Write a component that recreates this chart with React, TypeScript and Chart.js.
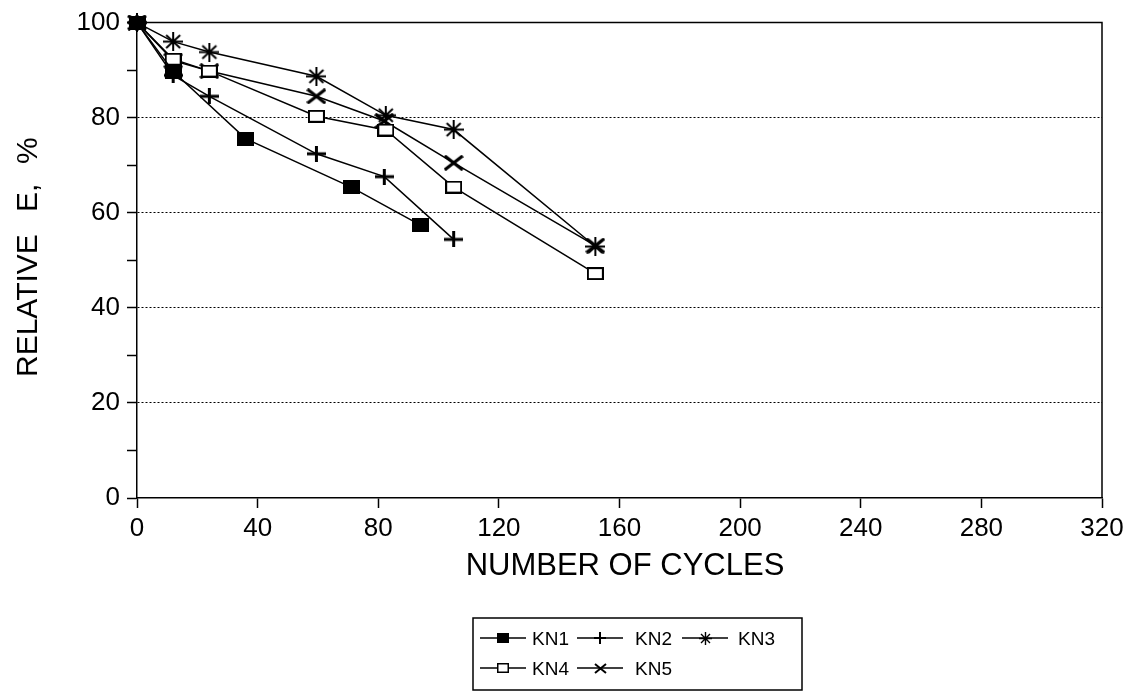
import React, { useEffect, useRef } from 'react';
import { Chart, registerables } from 'chart.js';

Chart.register(...registerables);

const FONT = '"Liberation Sans", Arial, Helvetica, sans-serif';

// ---- data ----
const seriesNames = ['KN1', 'KN2', 'KN3', 'KN4', 'KN5'];
const kn1Cycles = [0, 12, 36, 71, 94];
const kn1Values = [100, 89.7, 75.6, 65.4, 57.4];
const kn2Cycles = [0, 12, 24, 59.5, 82, 105];
const kn2Values = [100, 88.9, 84.5, 72.4, 67.6, 54.4];
const kn3Cycles = [0, 12, 24, 59.5, 82.5, 105, 152];
const kn3Values = [100, 96, 93.8, 88.7, 80.5, 77.5, 52.9];
const kn4Cycles = [0, 12, 24, 59.5, 82.5, 105, 152];
const kn4Values = [100, 92.3, 89.8, 80.3, 77.4, 65.4, 47.2];
const kn5Cycles = [0, 12, 24, 59.5, 82, 105, 152];
const kn5Values = [100, 92, 89.8, 84.5, 79.3, 70.5, 53.1];

const xMin = 0;
const xMax = 320;
const xStep = 40;
const yMin = 0;
const yMax = 100;
const yMinorStep = 10;
const yLabelStep = 20;
const yGridValues = [20, 40, 60, 80];

const xAxisTitle = 'NUMBER OF CYCLES';
const yAxisTitleParts = ['RELATIVE', 'E,', '%'];

type Marker = 'filledSquare' | 'plus' | 'asterisk' | 'openSquare' | 'cross';
const seriesMarkers: Marker[] = ['filledSquare', 'plus', 'asterisk', 'openSquare', 'cross'];

function makeMarker(kind: Marker, small: boolean): HTMLCanvasElement {
  const c = document.createElement('canvas');
  const ctx = c.getContext('2d')!;
  const set = (w: number, h: number) => {
    c.width = w;
    c.height = h;
  };
  if (kind === 'filledSquare') {
    small ? set(12, 10) : set(17, 14);
    ctx.fillStyle = '#000';
    ctx.fillRect(0, 0, c.width, c.height);
  } else if (kind === 'openSquare') {
    small ? set(12, 10) : set(17, 13);
    const lw = small ? 1.5 : 2;
    ctx.fillStyle = '#fff';
    ctx.fillRect(0, 0, c.width, c.height);
    ctx.strokeStyle = '#000';
    ctx.lineWidth = lw;
    ctx.strokeRect(lw / 2, lw / 2, c.width - lw, c.height - lw);
  } else if (kind === 'plus') {
    small ? set(12, 12) : set(19, 16);
    ctx.strokeStyle = '#000';
    ctx.lineWidth = small ? 2 : 3;
    ctx.beginPath();
    ctx.moveTo(0, c.height / 2);
    ctx.lineTo(c.width, c.height / 2);
    ctx.moveTo(c.width / 2, 0);
    ctx.lineTo(c.width / 2, c.height);
    ctx.stroke();
  } else if (kind === 'asterisk') {
    small ? set(13, 13) : set(20, 19);
    ctx.strokeStyle = '#000';
    ctx.lineWidth = small ? 1.4 : 2;
    const w = c.width;
    const h = c.height;
    const d = small ? 2 : 3;
    ctx.beginPath();
    ctx.moveTo(0, h / 2);
    ctx.lineTo(w, h / 2);
    ctx.moveTo(w / 2, 0);
    ctx.lineTo(w / 2, h);
    ctx.moveTo(d, d);
    ctx.lineTo(w - d, h - d);
    ctx.moveTo(w - d, d);
    ctx.lineTo(d, h - d);
    ctx.stroke();
  } else {
    small ? set(13, 11) : set(20, 16);
    ctx.strokeStyle = '#000';
    ctx.lineWidth = small ? 2 : 3.2;
    ctx.beginPath();
    ctx.moveTo(1, 1);
    ctx.lineTo(c.width - 1, c.height - 1);
    ctx.moveTo(c.width - 1, 1);
    ctx.lineTo(1, c.height - 1);
    ctx.stroke();
  }
  return c;
}

const legendRows = [
  [0, 1, 2],
  [3, 4],
];
const legendSymbolStarts = [480, 577, 682];
const legendTextStarts = [532, 635, 738];

export default function App() {
  const ref = useRef<HTMLCanvasElement | null>(null);

  useEffect(() => {
    const canvas = ref.current;
    if (!canvas) return;

    const big = seriesMarkers.map((m) => makeMarker(m, false));
    const small = seriesMarkers.map((m) => makeMarker(m, true));

    const xs = [kn1Cycles, kn2Cycles, kn3Cycles, kn4Cycles, kn5Cycles];
    const ys = [kn1Values, kn2Values, kn3Values, kn4Values, kn5Values];

    const datasets = seriesNames.map((name, i) => ({
      label: name,
      data: xs[i].map((x, j) => ({ x, y: ys[i][j] })),
      borderColor: '#000',
      backgroundColor: '#000',
      borderWidth: 1.5,
      pointStyle: big[i] as any,
      pointRadius: 10,
      pointHoverRadius: 10,
      showLine: true,
      tension: 0,
      clip: false as any,
    }));

    const framePlugin = {
      id: 'frame',
      beforeDatasetsDraw(chart: any) {
        const { ctx, chartArea: ca } = chart;
        ctx.save();
        ctx.strokeStyle = '#000';
        ctx.lineWidth = 1.5;
        ctx.beginPath();
        ctx.moveTo(ca.left, ca.top);
        ctx.lineTo(ca.right, ca.top);
        ctx.lineTo(ca.right, ca.bottom);
        ctx.stroke();
        ctx.restore();
      },
      afterDraw(chart: any) {
        const { ctx } = chart;
        ctx.save();
        ctx.fillStyle = '#000';
        ctx.strokeStyle = '#000';
        // x title
        ctx.font = `31px ${FONT}`;
        ctx.textAlign = 'center';
        ctx.textBaseline = 'alphabetic';
        ctx.fillText(xAxisTitle, 625, 575);
        // y title (rotated)
        ctx.font = `30px ${FONT}`;
        ctx.textAlign = 'left';
        const starts = [377, 212, 164];
        yAxisTitleParts.forEach((p, i) => {
          ctx.save();
          ctx.translate(37, starts[i]);
          ctx.rotate(-Math.PI / 2);
          ctx.fillText(p, 0, 0);
          ctx.restore();
        });
        // legend box
        ctx.lineWidth = 1.5;
        ctx.strokeRect(473, 618, 329, 72);
        ctx.font = `19px ${FONT}`;
        ctx.textBaseline = 'alphabetic';
        legendRows.forEach((row, r) => {
          const yLine = r === 0 ? 638 : 668;
          const yText = r === 0 ? 645 : 675;
          row.forEach((si, k) => {
            const x1 = legendSymbolStarts[k];
            const x2 = x1 + 46;
            ctx.lineWidth = 1.5;
            ctx.beginPath();
            ctx.moveTo(x1, yLine);
            ctx.lineTo(x2, yLine);
            ctx.stroke();
            const m = small[si];
            ctx.drawImage(m, Math.round((x1 + x2) / 2 - m.width / 2), Math.round(yLine - m.height / 2));
            ctx.fillText(seriesNames[si], legendTextStarts[k], yText);
          });
        });
        ctx.restore();
      },
    };

    const chart = new Chart(canvas, {
      type: 'line',
      data: { datasets: datasets as any },
      plugins: [framePlugin as any],
      options: {
        animation: false,
        responsive: false,
        devicePixelRatio: 1,
        layout: { padding: { left: 0, right: 40, top: 22, bottom: 0 } },
        plugins: {
          legend: { display: false },
          tooltip: { enabled: false },
        },
        scales: {
          x: {
            type: 'linear',
            min: xMin,
            max: xMax,
            afterFit: (s: any) => {
              s.height = 202;
            },
            ticks: {
              stepSize: xStep,
              color: '#000',
              font: { family: FONT, size: 26 },
              padding: 5,
              maxRotation: 0,
              autoSkip: false,
            },
            grid: {
              color: 'rgba(0,0,0,0)',
              tickColor: '#000',
              tickLength: 10,
              tickWidth: 1.5,
            },
            border: { display: true, color: '#000', width: 1.5 },
          },
          y: {
            type: 'linear',
            min: yMin,
            max: yMax,
            afterFit: (s: any) => {
              s.width = 137;
            },
            ticks: {
              stepSize: yMinorStep,
              color: '#000',
              font: { family: FONT, size: 26 },
              padding: 7,
              autoSkip: false,
              callback: (v: any) => (Number(v) % yLabelStep === 0 ? String(v) : ''),
            },
            grid: {
              color: (c: any) => (yGridValues.includes(c.tick?.value) ? '#000' : 'rgba(0,0,0,0)'),
              lineWidth: 1,
              tickColor: '#000',
              tickLength: 10,
              tickWidth: 1.5,
            },
            border: { display: true, color: '#000', width: 1.5, dash: [2, 2] },
          },
        },
      },
    });

    return () => chart.destroy();
  }, []);

  return (
    <div style={{ position: 'fixed', left: 0, top: 0, width: 1142, height: 700, background: '#fff' }}>
      <canvas ref={ref} width={1142} height={700} style={{ display: 'block' }} />
    </div>
  );
}
